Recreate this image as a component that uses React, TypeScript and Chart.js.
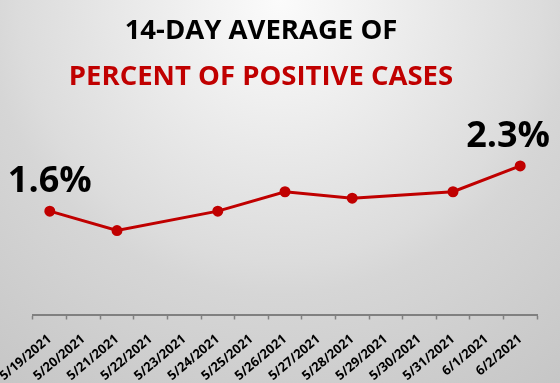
import React, { useEffect, useRef } from "react";
import { Chart, registerables } from "chart.js";

Chart.register(...registerables);

const categories = [
  "5/19/2021", "5/20/2021", "5/21/2021", "5/22/2021", "5/23/2021",
  "5/24/2021", "5/25/2021", "5/26/2021", "5/27/2021", "5/28/2021",
  "5/29/2021", "5/30/2021", "5/31/2021", "6/1/2021", "6/2/2021",
];
const percentValues: (number | null)[] = [
  1.6, null, 1.3, null, null, 1.6, null, 1.9, null, 1.8, null, null, 1.9, null, 2.3,
];
const labeledIndices = [0, 14];
const titleLine1 = "14-DAY AVERAGE OF";
const titleLine2 = "PERCENT OF POSITIVE CASES";

const RED = "#C00000";

const titleShift = {
  id: "titleShift",
  afterLayout(chart: any) {
    for (const box of chart.boxes) {
      if (box && box.options && box.options.text !== undefined && !box.axis) {
        box.left -= 24;
        box.right -= 24;
      }
    }
  },
};

const pointLabels = {
  id: "pointLabels",
  afterDatasetsDraw(chart: any) {
    const ctx = chart.ctx;
    const meta = chart.getDatasetMeta(0);
    ctx.save();
    ctx.font = "bold 36px 'Open Sans'";
    ctx.fillStyle = "#000000";
    ctx.textAlign = "center";
    ctx.textBaseline = "alphabetic";
    for (const i of labeledIndices) {
      const v = percentValues[i];
      const el = meta.data[i];
      if (v == null || !el) continue;
      const text = v.toFixed(1) + "%";
      const w = ctx.measureText(text).width;
      let x = el.x;
      const maxX = chart.width - 10 - w / 2;
      if (x > maxX) x = maxX;
      ctx.fillText(text, x, el.y - 19);
    }
    ctx.restore();
  },
};

export default function App() {
  const ref = useRef<HTMLCanvasElement | null>(null);
  useEffect(() => {
    if (!ref.current) return;
    const chart = new Chart(ref.current, {
      type: "line",
      data: {
        labels: categories,
        datasets: [
          {
            data: percentValues,
            borderColor: RED,
            backgroundColor: RED,
            borderWidth: 3,
            pointRadius: 4,
            pointHoverRadius: 4,
            pointBackgroundColor: RED,
            pointBorderColor: RED,
            spanGaps: true,
            tension: 0,
          },
        ],
      },
      options: {
        responsive: false,
        animation: false,
        layout: { padding: { left: 33, right: 23, top: 0, bottom: 0 } },
        plugins: {
          legend: { display: false },
          tooltip: { enabled: false },
          title: {
            display: true,
            text: titleLine1,
            color: "#000000",
            font: { family: "'Open Sans'", size: 27.5, weight: "bold", lineHeight: 1.2 },
            padding: { top: 15, bottom: 0 },
          },
          subtitle: {
            display: true,
            text: titleLine2,
            color: RED,
            font: { family: "'Open Sans'", size: 27.5, weight: "bold", lineHeight: 1.2 },
            padding: { top: 13, bottom: 59 },
          },
        },
        scales: {
          x: {
            type: "category",
            offset: true,
            afterFit: (scale: any) => {
              scale.height = 68.5;
              scale.paddingLeft = 0;
              scale.paddingRight = 0;
            },
            grid: {
              display: true,
              offset: true,
              drawOnChartArea: false,
              drawTicks: true,
              tickLength: 5,
              tickWidth: 1.5,
              tickColor: "#808080",
            },
            border: { display: true, color: "#808080", width: 2 },
            ticks: {
              autoSkip: false,
              minRotation: 40,
              maxRotation: 40,
              padding: 12,
              color: "#000000",
              font: { family: "'Open Sans'", size: 13, weight: "bold" },
            },
          },
          y: {
            display: false,
            min: 0,
            max: 2.5,
          },
        },
      },
      plugins: [titleShift, pointLabels],
    });
    return () => chart.destroy();
  }, []);
  return (
    <div
      style={{
        position: "fixed",
        left: 0,
        top: 0,
        width: 560,
        height: 383,
        background:
          "radial-gradient(circle farthest-corner at 50% 0%, #fbfbfb 0%, #f0f0f0 20%, #dcdcdc 55%, #d6d6d6 62%, #c6c6c6 100%)",
      }}
    >
      <canvas ref={ref} width={560} height={383} style={{ display: "block" }} />
    </div>
  );
}
